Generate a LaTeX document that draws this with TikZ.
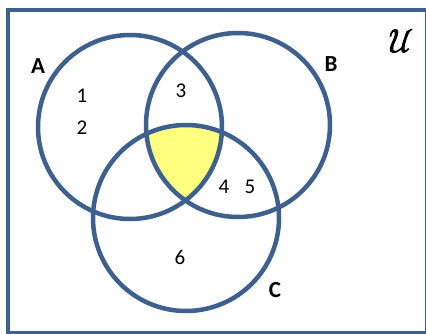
\documentclass[tikz,border=0pt]{standalone}
\usepackage{amsmath,amssymb}
\usepackage{fontspec}
\setmainfont{Carlito}
\newfontfamily\calfont[FakeBold=2.5]{latinmodern-math.otf}
\usepackage{tikz}
\usetikzlibrary{positioning}

\definecolor{setblue}{RGB}{62,96,142}
\definecolor{setyellow}{RGB}{255,255,128}

\begin{document}
\begin{tikzpicture}[
  x=1pt, y=-1pt,
  % set circles
  setline/.style={draw=setblue, line width=4.5pt},
  % labels
  setname/.style={font=\fontsize{23}{23}\selectfont\bfseries, inner sep=0pt},
  elem/.style={font=\fontsize{21}{21}\selectfont, inner sep=0pt}
]
\useasboundingbox (0,0) rectangle (426,334);

% === UNIVERSE ===
\draw[setblue, line width=4pt] (8,10) rectangle (427,333);
\node[inner sep=0pt, font=\fontsize{33}{33}\calfont] (univ) at (401,41) {\symbol{"1D4B0}};

% === SHADED REGION (A and B and C) ===
\begin{scope}
  \clip (130,127) circle (92);
  \clip (238,125) circle (92);
  \fill[setyellow] (186,218) circle (93);
\end{scope}

% === CIRCLES ===
\draw[setline] (130,127) circle (92);
\draw[setline] (238,125) circle (92);
\draw[setline] (186,218) circle (93);

% === LABELS ===
\node[setname] (setA) at (38,66) {A};
\node[setname] (setB) at (331,64) {B};
\node[setname] (setC) at (275,290) {C};

\node[elem] (e1) at (82,96) {1};
\node[elem] (e2) at (82,128) {2};
\node[elem] (e3) at (181,91) {3};
\node[elem] (e4) at (224,187) {4};
\node[elem] (e5) at (250,187) {5};
\node[elem] (e6) at (180,257) {6};

\end{tikzpicture}
\end{document}
